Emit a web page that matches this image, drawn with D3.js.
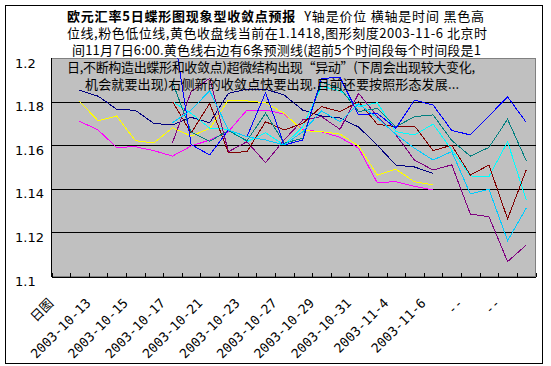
<!DOCTYPE html>
<html><head><meta charset="utf-8">
<script src="https://cdn.jsdelivr.net/npm/d3@7/dist/d3.min.js"></script>
<style>body{margin:0;background:#fff}</style>
</head><body><svg id="c" width="551" height="366"></svg>
<script>
// ---------- data ----------
const categories = ["日图","2003-10-10","2003-10-13","2003-10-14","2003-10-15","2003-10-16","2003-10-17",
  "2003-10-20","2003-10-21","2003-10-22","2003-10-23","2003-10-24","2003-10-27","2003-10-28","2003-10-29",
  "2003-10-30","2003-10-31","2003-11-3","2003-11-4","2003-11-5","2003-11-6","--","--","--","--","--"];
const yTicks = [1.1, 1.12, 1.14, 1.16, 1.18, 1.2];
const yTickLabels = ["1.1","1.12","1.14","1.16","1.18","1.2"];
const N = null;
// high (navy)
const high  = [N,1.1852,1.1825,1.1765,1.1760,1.1700,1.1693,1.1728,1.1703,1.1838,1.1857,1.1857,1.1830,1.1761,1.1734,1.1725,1.1683,1.1600,1.1509,1.1500,1.1471,N,N,N,N,N];
// low (magenta)
const low   = [N,1.1710,1.1670,1.1590,1.1593,1.1575,1.1550,1.1596,1.1624,1.1662,1.1761,1.1761,1.1743,1.1670,1.1662,1.1636,1.1586,1.1428,1.1433,1.1411,1.1394,N,N,N,N,N];
// close (yellow)
const close = [N,1.1802,1.1712,1.1734,1.1621,1.1610,1.1680,1.1642,1.1677,1.1807,1.1803,1.1795,1.1746,1.1667,1.1662,1.1651,1.1596,1.1463,1.1490,1.1432,1.1418,N,N,N,N,N];
// six forecast lines
const fcCyan   = [N,N,N,N,N,N,1.1800,1.1746,1.1678,1.1673,1.1616,1.1657,1.1601,1.1685,1.1870,1.1850,1.1777,1.1795,1.1662,1.1647,1.1697,1.1578,1.1459,1.1456,1.1616,1.1349];
const fcPurple = [N,N,N,N,N,N,1.1612,1.1845,1.1907,1.1570,1.1616,1.1520,1.1624,1.1716,1.1731,1.1673,1.1838,1.1731,1.1647,1.1532,1.1486,1.1510,1.1284,1.1272,1.1066,1.1142];
const fcMaroon = [N,N,N,N,N,N,1.1800,1.1656,1.1792,1.1566,1.1570,1.1708,1.1670,1.1700,1.1777,1.1754,1.1800,1.1696,1.1685,1.1688,1.1575,1.1600,1.1463,1.1509,1.1262,1.1486];
const fcTeal   = [N,N,N,N,N,N,1.1890,1.1660,1.1618,1.1667,1.1620,1.1747,1.1609,1.1632,1.1890,1.1861,1.1754,1.1769,1.1685,1.1731,1.1739,1.1622,1.1550,1.1590,1.1719,1.1529];
const fcBlue   = [N,N,N,N,N,N,1.2160,1.1603,1.1555,1.1670,1.1639,1.1841,1.1601,1.1624,1.1907,1.1910,1.1739,1.1746,1.1678,1.1807,1.1784,1.1668,1.1647,1.1734,1.1822,1.1705];
const fcSky    = [N,N,N,N,N,N,1.1703,1.1761,1.1850,1.1670,1.1639,1.1624,1.1601,1.1662,1.1757,1.1708,1.1790,1.1725,1.1650,1.1586,1.1532,1.1571,1.1376,1.1398,1.1162,1.1311];

const seriesList = [
  {v: high,  c: "#000080"},
  {v: low,   c: "#FF00FF"},
  {v: close, c: "#FFFF00"},
  {v: fcCyan, c: "#00FFFF"},
  {v: fcPurple, c: "#800080"},
  {v: fcMaroon, c: "#800000"},
  {v: fcTeal, c: "#008080"},
  {v: fcBlue, c: "#0000FF"},
  {v: fcSky, c: "#00CCFF"}
];
const titleLines = [
  "位线,粉色低位线,黄色收盘线当前在1.1418,图形刻度2003-11-6 北京时",
  "间11月7日6:00.黄色线右边有6条预测线(超前5个时间段每个时间段是1",
  "日,不断构造出蝶形和收敛点)超微结构出现“异动”(下周会出现较大变化,",
  "机会就要出现)右侧新的收敛点快要出现.目前还要按照形态发展..."
];

// ---------- layout ----------
const L = 51.5, R = 535.5, T = 58, B = 276;
const svg = d3.select("#c");
svg.append("rect").attr("x",5.5).attr("y",5.5).attr("width",537).attr("height",358)
  .attr("fill","#fff").attr("stroke","#000").attr("stroke-width",1);

const idx = d3.range(categories.length);
const x = d3.scalePoint().domain(idx).range([L, R]).padding(0.5);
const xb = d3.scaleLinear().domain([0, categories.length]).range([L, R]);
const y = d3.scaleLinear().domain([1.1, 1.2]).range([B, T]);

// plot area
svg.append("rect").attr("x",L).attr("y",T).attr("width",R-L).attr("height",B-T)
  .attr("fill","#C0C0C0").attr("stroke","#808080").attr("shape-rendering","crispEdges");

// gridlines
svg.append("g").selectAll("line").data(yTicks.filter(d=>d>1.1 && d<1.2)).join("line")
  .attr("x1",L).attr("x2",R).attr("y1",d=>Math.round(y(d))+0.5).attr("y2",d=>Math.round(y(d))+0.5)
  .attr("stroke","#000").attr("shape-rendering","crispEdges");

// clip
svg.append("clipPath").attr("id","pc").append("rect").attr("x",L).attr("y",T).attr("width",R-L).attr("height",B-T);

const line = d3.line().defined(d=>d.v!=null).x(d=>x(d.i)).y(d=>y(d.v));
const lg = svg.append("g").attr("clip-path","url(#pc)");
seriesList.forEach(s=>{
  lg.append("path").datum(s.v.map((v,i)=>({v,i})))
    .attr("d",line).attr("fill","none").attr("stroke",s.c).attr("stroke-width",1)
    .attr("shape-rendering","crispEdges");
});

// axes lines
svg.append("line").attr("x1",L).attr("x2",L).attr("y1",T).attr("y2",B+0.5).attr("stroke","#000").attr("shape-rendering","crispEdges");

// x tick marks (between categories, inward)
const xTickAxis = d3.axisBottom(xb).tickValues(d3.range(0, categories.length+1)).tickSizeInner(-4).tickSizeOuter(0).tickFormat("");
const gxt = svg.append("g").attr("transform",`translate(0,${B+0.5})`).call(xTickAxis);
gxt.select(".domain").attr("stroke","#000").attr("shape-rendering","crispEdges");
gxt.selectAll(".tick line").attr("stroke","#000").attr("shape-rendering","crispEdges");

// x labels
const xLabAxis = d3.axisBottom(x).tickValues(idx.filter(i=>i%2===0)).tickSize(0).tickFormat(i=>categories[i]);
const gxl = svg.append("g").attr("transform",`translate(0,${B})`).call(xLabAxis);
gxl.select(".domain").remove();
gxl.selectAll(".tick text")
  .attr("font-family","'DejaVu Sans Mono', 'Noto Sans CJK SC', monospace")
  .attr("font-size",13).attr("fill","#000")
  .attr("text-anchor","end").attr("dy",null).attr("y",null)
  .attr("transform","translate(-7,28) rotate(-45)");

// y labels
const yAxis = d3.axisLeft(y).tickValues(yTicks).tickSize(0).tickFormat((d,i)=>yTickLabels[i]);
const gy = svg.append("g").attr("transform",`translate(${L},0)`).call(yAxis);
gy.select(".domain").remove();
gy.selectAll(".tick text").attr("font-family","'DejaVu Sans', sans-serif").attr("font-size",13)
  .attr("fill","#000").attr("text-anchor","start").attr("x",15-L).attr("dy","0.7em");

// title
const tf = "'Noto Sans CJK SC', sans-serif";
const t1 = svg.append("text").attr("x",67).attr("y",20.6).attr("font-family",tf).attr("font-size",13)
  .attr("textLength",417).attr("lengthAdjust","spacing");
t1.append("tspan").attr("font-weight","bold").text("欧元汇率5日蝶形图现象型收敛点预报");
t1.append("tspan").attr("dx",8).text("Y轴是价位  横轴是时间  黑色高");
const starts = [67, 72, 67, 85];
const widths = [420, 409, 408, 374];
titleLines.forEach((t,i)=>{
  svg.append("text").attr("x",starts[i]).attr("y",37.8+17.2*i).attr("font-family",tf).attr("font-size",13)
    .attr("textLength",widths[i]).attr("lengthAdjust","spacing").attr("xml:space","preserve").text(t);
});
</script></body></html>
